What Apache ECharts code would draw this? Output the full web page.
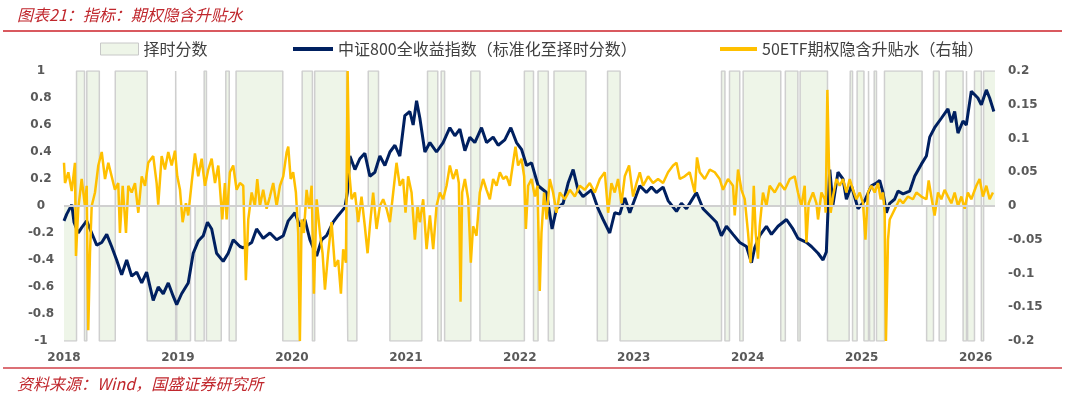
<!DOCTYPE html>
<html>
<head>
<meta charset="utf-8">
<script src="https://cdn.jsdelivr.net/npm/echarts@6/dist/echarts.min.js"></script>
<style>
  html, body { margin: 0; padding: 0; background: #fff; }
  #chart { width: 1065px; height: 398px; }
</style>
</head>
<body>
<div id="chart"></div>
<script>
// 择时分数：每段起点（年份小数）与分值，+1 / 0 / -1
const bandT = [2018.00, 2018.11, 2018.18, 2018.20, 2018.31, 2018.45, 2018.73, 2018.98, 2018.99, 2019.11,
  2019.15, 2019.23, 2019.25, 2019.38, 2019.42, 2019.45, 2019.51, 2019.92, 2020.07, 2020.09,
  2020.18, 2020.20, 2020.48, 2020.49, 2020.57, 2020.67, 2020.76, 2020.86, 2021.14, 2021.19,
  2021.28, 2021.31, 2021.34, 2021.57, 2021.65, 2022.04, 2022.12, 2022.16, 2022.25, 2022.30,
  2022.58, 2022.68, 2022.77, 2022.88, 2023.77, 2023.80, 2023.84, 2023.93, 2023.96, 2024.29,
  2024.33, 2024.44, 2024.46, 2024.70, 2024.89, 2024.90, 2024.92, 2024.96, 2025.02, 2025.06,
  2025.07, 2025.11, 2025.13, 2025.20, 2025.53, 2025.57, 2025.63, 2025.68, 2025.74, 2025.89,
  2025.92, 2025.93, 2025.99, 2026.05, 2026.07, 2026.17];
const bandV = [-1, 1, -1, 1, -1, 1, -1, 1, -1, 0,
  -1, 1, -1, 0, 1, -1, 1, -1, 0, 1,
  -1, 1, 0, -1, 0, 1, 0, -1, 0, 1,
  -1, 1, -1, 1, -1, 1, -1, 1, -1, 1,
  0, -1, 1, -1, 1, -1, 1, -1, 1, -1,
  1, -1, 1, -1, 0, 1, -1, 1, -1, 1,
  -1, 1, -1, 1, 0, -1, 1, -1, 1, -1,
  1, -1, 1, -1, 1, 1];

// 中证800全收益指数（标准化至择时分数）
const navyT = [2018.000, 2018.024, 2018.068, 2018.088, 2018.125, 2018.155, 2018.199, 2018.243, 2018.287, 2018.331,
  2018.375, 2018.418, 2018.462, 2018.506, 2018.550, 2018.594, 2018.638, 2018.682, 2018.725, 2018.783,
  2018.827, 2018.871, 2018.915, 2018.959, 2018.989, 2019.032, 2019.090, 2019.134, 2019.178, 2019.222,
  2019.259, 2019.296, 2019.339, 2019.397, 2019.441, 2019.485, 2019.544, 2019.573, 2019.647, 2019.690,
  2019.748, 2019.807, 2019.866, 2019.924, 2019.968, 2020.026, 2020.070, 2020.114, 2020.158, 2020.217,
  2020.261, 2020.304, 2020.362, 2020.406, 2020.465, 2020.487, 2020.509, 2020.553, 2020.596, 2020.640,
  2020.684, 2020.728, 2020.772, 2020.816, 2020.860, 2020.904, 2020.947, 2020.991, 2021.035, 2021.064,
  2021.094, 2021.123, 2021.167, 2021.211, 2021.269, 2021.327, 2021.386, 2021.430, 2021.474, 2021.518,
  2021.561, 2021.605, 2021.664, 2021.708, 2021.766, 2021.810, 2021.868, 2021.921, 2021.971, 2022.015,
  2022.059, 2022.103, 2022.161, 2022.234, 2022.283, 2022.322, 2022.380, 2022.424, 2022.468, 2022.511,
  2022.555, 2022.629, 2022.687, 2022.731, 2022.789, 2022.833, 2022.877, 2022.921, 2022.965, 2023.009,
  2023.053, 2023.111, 2023.155, 2023.199, 2023.257, 2023.301, 2023.375, 2023.418, 2023.462, 2023.506,
  2023.550, 2023.608, 2023.667, 2023.725, 2023.769, 2023.813, 2023.871, 2023.930, 2023.989, 2024.033,
  2024.061, 2024.105, 2024.164, 2024.208, 2024.266, 2024.340, 2024.397, 2024.441, 2024.515, 2024.559,
  2024.617, 2024.661, 2024.690, 2024.705, 2024.720, 2024.748, 2024.792, 2024.836, 2024.866, 2024.910,
  2024.968, 2025.027, 2025.085, 2025.129, 2025.158, 2025.187, 2025.217, 2025.246, 2025.289, 2025.319,
  2025.363, 2025.421, 2025.465, 2025.524, 2025.568, 2025.597, 2025.640, 2025.699, 2025.757, 2025.787,
  2025.816, 2025.845, 2025.889, 2025.918, 2025.962, 2026.020, 2026.050, 2026.094, 2026.123, 2026.160];
const navyV = [-0.11, -0.06, 0.01, -0.12, -0.20, -0.16, -0.11, -0.20, -0.29, -0.27,
  -0.21, -0.30, -0.40, -0.51, -0.40, -0.52, -0.49, -0.57, -0.49, -0.70,
  -0.60, -0.65, -0.57, -0.67, -0.73, -0.65, -0.57, -0.35, -0.26, -0.22,
  -0.12, -0.17, -0.35, -0.41, -0.35, -0.25, -0.30, -0.31, -0.27, -0.17,
  -0.24, -0.20, -0.25, -0.22, -0.11, -0.05, -0.15, -0.10, -0.25, -0.37,
  -0.25, -0.22, -0.12, -0.07, -0.01, 0.10, 0.37, 0.27, 0.35, 0.39,
  0.22, 0.25, 0.37, 0.30, 0.40, 0.45, 0.37, 0.67, 0.70, 0.60,
  0.78, 0.65, 0.40, 0.47, 0.40, 0.47, 0.58, 0.52, 0.57, 0.41,
  0.51, 0.47, 0.58, 0.47, 0.51, 0.45, 0.49, 0.58, 0.47, 0.42,
  0.30, 0.32, 0.15, 0.10, -0.17, -0.02, 0.02, 0.17, 0.27, 0.12,
  0.07, 0.12, -0.02, -0.10, -0.20, -0.05, -0.06, 0.06, -0.05, 0.05,
  0.15, 0.10, 0.14, 0.10, 0.14, 0.04, -0.04, 0.02, -0.02, 0.04,
  0.10, -0.02, -0.07, -0.12, -0.22, -0.15, -0.21, -0.27, -0.30, -0.42,
  -0.31, -0.22, -0.15, -0.21, -0.15, -0.10, -0.17, -0.24, -0.27, -0.30,
  -0.35, -0.40, -0.34, -0.02, 0.27, 0.01, 0.25, 0.20, 0.05, 0.15,
  -0.02, 0.04, 0.15, 0.17, 0.19, 0.10, -0.05, 0.02, 0.05, 0.11,
  0.09, 0.11, 0.22, 0.31, 0.37, 0.51, 0.58, 0.65, 0.72, 0.62,
  0.70, 0.54, 0.63, 0.60, 0.85, 0.80, 0.75, 0.86, 0.80, 0.70];

// 50ETF期权隐含升贴水（右轴）
const etfT = [2018.000, 2018.009, 2018.038, 2018.068, 2018.096, 2018.105, 2018.125, 2018.155, 2018.184, 2018.199,
  2018.213, 2018.228, 2018.243, 2018.272, 2018.301, 2018.331, 2018.360, 2018.389, 2018.418, 2018.447,
  2018.476, 2018.491, 2018.515, 2018.544, 2018.564, 2018.594, 2018.623, 2018.652, 2018.682, 2018.711,
  2018.739, 2018.783, 2018.813, 2018.827, 2018.857, 2018.886, 2018.915, 2018.945, 2018.974, 2018.994,
  2019.018, 2019.041, 2019.070, 2019.090, 2019.120, 2019.149, 2019.178, 2019.208, 2019.237, 2019.266,
  2019.296, 2019.325, 2019.354, 2019.389, 2019.412, 2019.427, 2019.456, 2019.485, 2019.515, 2019.544,
  2019.573, 2019.596, 2019.617, 2019.647, 2019.675, 2019.696, 2019.719, 2019.748, 2019.778, 2019.807,
  2019.836, 2019.866, 2019.895, 2019.924, 2019.954, 2019.968, 2019.989, 2020.011, 2020.035, 2020.055,
  2020.070, 2020.085, 2020.105, 2020.129, 2020.152, 2020.173, 2020.193, 2020.217, 2020.246, 2020.269,
  2020.290, 2020.318, 2020.348, 2020.377, 2020.406, 2020.430, 2020.450, 2020.474, 2020.489, 2020.503,
  2020.524, 2020.553, 2020.582, 2020.611, 2020.640, 2020.664, 2020.684, 2020.713, 2020.743, 2020.772,
  2020.801, 2020.831, 2020.860, 2020.889, 2020.918, 2020.947, 2020.976, 2020.997, 2021.020, 2021.050,
  2021.079, 2021.103, 2021.123, 2021.152, 2021.182, 2021.211, 2021.240, 2021.269, 2021.298, 2021.327,
  2021.357, 2021.386, 2021.415, 2021.445, 2021.465, 2021.480, 2021.494, 2021.518, 2021.547, 2021.570,
  2021.590, 2021.620, 2021.649, 2021.678, 2021.708, 2021.737, 2021.766, 2021.796, 2021.825, 2021.854,
  2021.883, 2021.912, 2021.941, 2021.962, 2021.985, 2022.015, 2022.038, 2022.053, 2022.073, 2022.103,
  2022.132, 2022.155, 2022.175, 2022.190, 2022.213, 2022.234, 2022.263, 2022.292, 2022.322, 2022.351,
  2022.395, 2022.439, 2022.483, 2022.526, 2022.570, 2022.614, 2022.658, 2022.702, 2022.746, 2022.775,
  2022.804, 2022.833, 2022.862, 2022.892, 2022.921, 2022.959, 2022.994, 2023.024, 2023.053, 2023.082,
  2023.126, 2023.169, 2023.213, 2023.257, 2023.301, 2023.345, 2023.375, 2023.404, 2023.447, 2023.491,
  2023.535, 2023.555, 2023.579, 2023.623, 2023.667, 2023.711, 2023.754, 2023.783, 2023.827, 2023.871,
  2023.886, 2023.915, 2023.945, 2023.974, 2024.003, 2024.024, 2024.041, 2024.053, 2024.070, 2024.090,
  2024.105, 2024.134, 2024.164, 2024.193, 2024.237, 2024.281, 2024.325, 2024.369, 2024.412, 2024.441,
  2024.471, 2024.500, 2024.515, 2024.535, 2024.573, 2024.603, 2024.617, 2024.647, 2024.676, 2024.684,
  2024.699, 2024.713, 2024.728, 2024.748, 2024.778, 2024.807, 2024.836, 2024.866, 2024.895, 2024.924,
  2024.954, 2024.983, 2025.012, 2025.033, 2025.055, 2025.085, 2025.114, 2025.143, 2025.167, 2025.187,
  2025.202, 2025.213, 2025.231, 2025.246, 2025.275, 2025.304, 2025.333, 2025.363, 2025.406, 2025.450,
  2025.480, 2025.524, 2025.568, 2025.588, 2025.611, 2025.640, 2025.670, 2025.699, 2025.728, 2025.757,
  2025.787, 2025.816, 2025.845, 2025.875, 2025.904, 2025.932, 2025.962, 2026.006, 2026.035, 2026.064,
  2026.094, 2026.123, 2026.152];
const etfV = [0.064, 0.034, 0.050, 0.022, 0.064, -0.074, -0.004, 0.040, 0.000, 0.030,
  -0.184, -0.070, 0.000, 0.020, 0.060, 0.080, 0.040, 0.064, 0.044, 0.024,
  0.034, -0.040, 0.030, -0.040, 0.030, 0.020, 0.034, -0.010, 0.044, 0.030,
  0.064, 0.074, 0.034, 0.002, 0.074, 0.054, 0.080, 0.060, 0.082, 0.044,
  0.024, -0.024, 0.004, -0.014, 0.034, 0.078, 0.044, 0.070, 0.030, 0.054,
  0.070, 0.034, 0.060, -0.020, 0.034, -0.020, 0.050, 0.060, 0.024, 0.034,
  0.030, -0.110, -0.020, 0.020, 0.000, 0.040, 0.000, 0.024, -0.004, 0.014,
  0.034, 0.000, 0.030, 0.044, 0.080, 0.088, 0.040, 0.050, 0.020, -0.040,
  -0.200, -0.020, -0.040, 0.024, -0.004, 0.030, -0.130, 0.010, -0.040, -0.070,
  -0.124, -0.070, -0.024, -0.090, -0.080, -0.130, -0.064, -0.084, 0.200, 0.050,
  0.010, 0.020, -0.024, 0.014, -0.030, -0.070, -0.030, 0.020, -0.034, 0.000,
  0.010, -0.004, -0.024, 0.020, 0.064, 0.030, 0.040, -0.010, 0.044, 0.020,
  -0.050, 0.000, -0.024, 0.010, -0.064, -0.014, -0.064, 0.000, 0.020, 0.010,
  0.030, 0.060, 0.040, 0.054, 0.034, -0.142, 0.020, 0.040, 0.010, -0.084,
  -0.030, -0.044, 0.020, 0.040, 0.024, 0.010, 0.040, 0.030, 0.050, 0.040,
  0.044, 0.030, 0.064, 0.088, 0.060, 0.070, 0.044, -0.034, 0.030, 0.040,
  0.014, 0.030, -0.126, -0.040, 0.020, -0.020, 0.040, 0.020, -0.010, 0.020,
  0.010, 0.024, 0.014, 0.030, 0.024, 0.034, 0.020, 0.040, 0.050, -0.010,
  0.034, 0.020, 0.040, 0.004, 0.044, 0.060, 0.014, 0.034, 0.050, 0.030,
  0.044, 0.034, 0.040, 0.034, 0.050, 0.060, 0.064, 0.040, 0.044, 0.050,
  0.020, 0.072, 0.050, 0.040, 0.054, 0.050, 0.040, 0.024, 0.040, 0.030,
  -0.014, 0.054, 0.024, 0.010, -0.040, -0.084, -0.030, 0.030, -0.040, -0.078,
  -0.030, 0.020, 0.000, 0.030, 0.020, 0.034, 0.024, 0.040, 0.044, 0.020,
  0.000, 0.030, -0.054, 0.004, 0.020, 0.004, -0.020, 0.020, 0.010, -0.010,
  0.172, 0.060, -0.010, 0.014, 0.040, 0.030, 0.040, 0.020, 0.040, 0.024,
  0.010, 0.020, 0.004, -0.050, 0.020, 0.030, 0.020, 0.034, 0.010, 0.020,
  -0.010, -0.200, -0.050, -0.020, -0.010, 0.000, 0.010, 0.004, 0.014, 0.010,
  0.020, 0.014, 0.010, 0.038, 0.014, -0.014, 0.020, 0.010, 0.024, 0.014,
  0.004, 0.020, 0.000, 0.014, -0.004, 0.020, 0.010, 0.030, 0.040, 0.014,
  0.030, 0.010, 0.020];

const nameBand = '择时分数';
const nameNavy = '中证800全收益指数（标准化至择时分数）';
const nameEtf = '50ETF期权隐含升贴水（右轴）';

const pairs = (xs, ys) => xs.map((x, i) => [x, ys[i]]);

const chart = echarts.init(document.getElementById('chart'));

const labelStyle = {
  color: '#595959',
  fontWeight: 'bold',
  fontSize: 12,
  fontFamily: 'DejaVu Sans'
};
const legendText = {
  color: '#404040',
  fontSize: 16,
  fontFamily: 'Noto Sans CJK SC'
};
const redText = {
  color: '#C0272D',
  fontStyle: 'italic',
  fontWeight: 'normal',
  fontSize: 16,
  fontFamily: 'Noto Sans CJK SC'
};

chart.setOption({
  animation: false,
  title: [
    { text: '图表21：指标：期权隐含升贴水', left: 12, top: 2, textStyle: redText },
    { text: '资料来源：Wind，国盛证券研究所', left: 12, top: 371, textStyle: redText }
  ],
  graphic: [
    { type: 'line', shape: { x1: 3, y1: 31, x2: 1062, y2: 31 }, style: { stroke: '#D9595F', lineWidth: 2 } },
    { type: 'line', shape: { x1: 3, y1: 368, x2: 1062, y2: 368 }, style: { stroke: '#DC7076', lineWidth: 2 } }
  ],
  legend: [
    {
      left: 100, top: 41, padding: 0, itemWidth: 38, itemHeight: 12, textStyle: legendText,
      data: [{ name: nameBand, icon: 'rect', itemStyle: { color: '#EEF5E8', borderColor: '#C8C8C8', borderWidth: 1 } }]
    },
    {
      left: 293, top: 41, padding: 0, itemWidth: 40, itemHeight: 4, textStyle: legendText,
      data: [{ name: nameNavy, icon: 'rect', itemStyle: { color: '#002060', borderWidth: 0 } }]
    },
    {
      left: 720, top: 41, padding: 0, itemWidth: 37, itemHeight: 4, textStyle: legendText,
      data: [{ name: nameEtf, icon: 'rect', itemStyle: { color: '#FFC000', borderWidth: 0 } }]
    }
  ],
  grid: { left: 64, right: 70, top: 71, bottom: 57 },
  xAxis: {
    type: 'value',
    min: 2018,
    max: 2026.17,
    interval: 1,
    axisLine: { show: false },
    axisTick: { show: false },
    splitLine: { show: false },
    axisLabel: Object.assign({}, labelStyle, {
      margin: 11,
      formatter: v => (Math.abs(v - Math.round(v)) < 1e-6 ? String(Math.round(v)) : '')
    })
  },
  yAxis: [
    {
      type: 'value',
      min: -1,
      max: 1,
      interval: 0.2,
      position: 'left',
      axisLine: { show: false },
      axisTick: { show: false },
      splitLine: { show: false },
      axisLabel: Object.assign({}, labelStyle, { align: 'center', margin: 23 })
    },
    {
      type: 'value',
      min: -0.2,
      max: 0.2,
      interval: 0.05,
      position: 'right',
      axisLine: { show: false },
      axisTick: { show: false },
      splitLine: { show: false },
      axisLabel: Object.assign({}, labelStyle, { margin: 13 })
    }
  ],
  series: [
    {
      name: nameBand,
      type: 'line',
      step: 'end',
      yAxisIndex: 0,
      data: pairs(bandT, bandV),
      symbol: 'none',
      lineStyle: { color: '#CFCFCF', width: 1.5 },
      itemStyle: { color: '#EEF5E8' },
      areaStyle: { color: '#EEF5E8', opacity: 1, origin: 0 },
      z: 1,
      markLine: {
        silent: true,
        symbol: 'none',
        label: { show: false },
        lineStyle: { color: '#D0D0D0', width: 2, type: 'solid' },
        data: [{ yAxis: 0 }]
      }
    },
    {
      name: nameNavy,
      type: 'line',
      yAxisIndex: 0,
      data: pairs(navyT, navyV),
      symbol: 'none',
      lineStyle: { color: '#002060', width: 3 },
      itemStyle: { color: '#002060' },
      z: 3
    },
    {
      name: nameEtf,
      type: 'line',
      yAxisIndex: 1,
      data: pairs(etfT, etfV),
      symbol: 'none',
      lineStyle: { color: '#FFC000', width: 2.5 },
      itemStyle: { color: '#FFC000' },
      z: 4
    }
  ]
});
</script>
</body>
</html>
